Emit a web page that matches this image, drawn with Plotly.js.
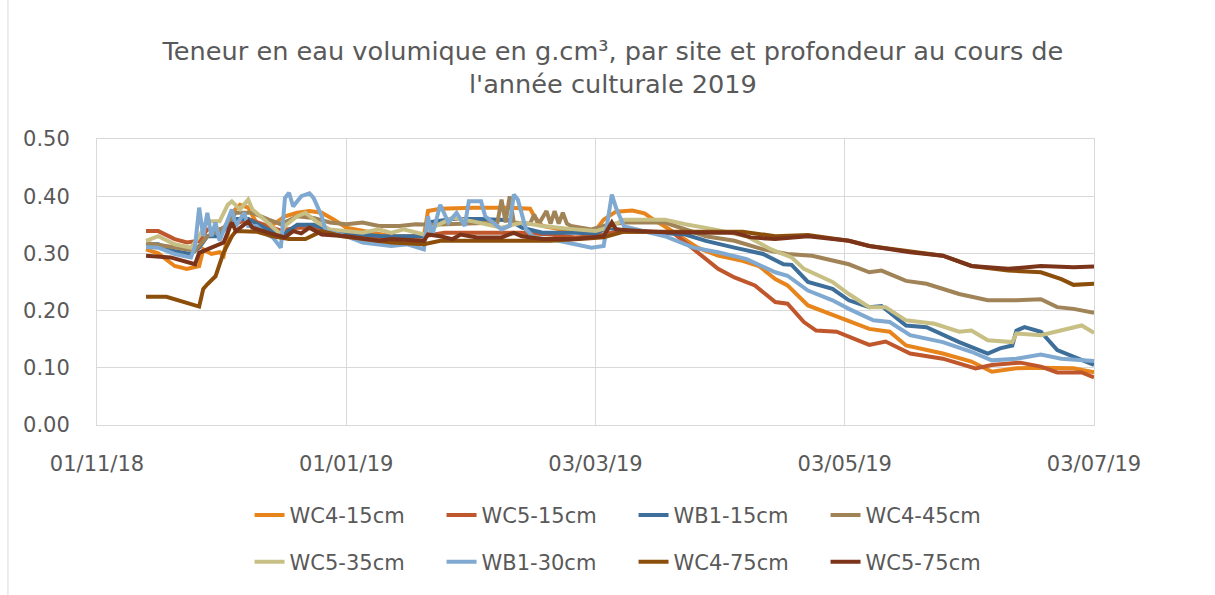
<!DOCTYPE html>
<html>
<head>
<meta charset="utf-8">
<script src="https://cdn.plot.ly/plotly-3.0.1.min.js"></script>
<style>html,body{margin:0;padding:0;background:#fff;}#chart{width:1215px;height:595px;}</style>
</head>
<body>
<div id="chart"></div>
<script>
// ---- data ----
const seriesNames = ['WC4-15cm','WC5-15cm','WB1-15cm','WC4-45cm','WC5-35cm','WB1-30cm','WC4-75cm','WC5-75cm'];
const seriesColors = ['#E8841C','#C0572C','#3E6F9B','#A08458','#C8BF84','#7FA9D0','#8C4F0B','#7B3419'];

const wc4_15_dates = ['2018-11-13','2018-11-16','2018-11-20','2018-11-23','2018-11-26','2018-11-27','2018-11-29','2018-12-01','2018-12-02','2018-12-03','2018-12-04','2018-12-06','2018-12-08','2018-12-10','2018-12-12','2018-12-14','2018-12-17','2018-12-20','2018-12-23','2018-12-26','2018-12-29','2019-01-01','2019-01-05','2019-01-12','2019-01-20','2019-01-21','2019-01-24','2019-02-01','2019-02-10','2019-02-15','2019-02-16','2019-02-18','2019-02-24','2019-03-03','2019-03-05','2019-03-08','2019-03-12','2019-03-15','2019-03-17','2019-03-20','2019-03-28','2019-04-02','2019-04-08','2019-04-12','2019-04-16','2019-04-19','2019-04-24','2019-04-28','2019-05-04','2019-05-09','2019-05-14','2019-05-18','2019-05-27','2019-06-03','2019-06-08','2019-06-14','2019-06-20','2019-06-28','2019-07-03'];
const wc4_15_values = [0.307,0.300,0.278,0.273,0.278,0.307,0.299,0.302,0.296,0.330,0.371,0.385,0.380,0.354,0.345,0.350,0.365,0.371,0.374,0.371,0.359,0.345,0.340,0.330,0.330,0.374,0.378,0.380,0.380,0.378,0.365,0.348,0.340,0.340,0.359,0.373,0.375,0.370,0.360,0.347,0.310,0.296,0.287,0.278,0.255,0.244,0.209,0.198,0.183,0.168,0.163,0.139,0.125,0.111,0.093,0.099,0.100,0.099,0.092];

const wc5_15_dates = ['2018-11-13','2018-11-16','2018-11-20','2018-11-23','2018-11-26','2018-11-28','2018-12-01','2018-12-04','2018-12-08','2018-12-12','2018-12-16','2018-12-20','2018-12-24','2018-12-28','2019-01-01','2019-01-10','2019-01-20','2019-01-25','2019-02-05','2019-02-13','2019-02-20','2019-02-26','2019-03-03','2019-03-08','2019-03-15','2019-03-22','2019-03-25','2019-03-29','2019-04-02','2019-04-06','2019-04-11','2019-04-16','2019-04-19','2019-04-23','2019-04-26','2019-05-01','2019-05-04','2019-05-09','2019-05-13','2019-05-19','2019-05-27','2019-06-04','2019-06-08','2019-06-15','2019-06-20','2019-06-24','2019-06-30','2019-07-03'];
const wc5_15_values = [0.339,0.339,0.325,0.319,0.322,0.342,0.342,0.350,0.360,0.350,0.340,0.345,0.345,0.335,0.330,0.328,0.330,0.336,0.336,0.336,0.333,0.328,0.330,0.338,0.338,0.336,0.319,0.296,0.273,0.258,0.244,0.215,0.212,0.180,0.165,0.163,0.155,0.140,0.146,0.125,0.116,0.099,0.105,0.109,0.102,0.092,0.092,0.083];

const wb1_15_dates = ['2018-11-13','2018-11-16','2018-11-20','2018-11-24','2018-11-26','2018-11-28','2018-12-01','2018-12-04','2018-12-08','2018-12-12','2018-12-16','2018-12-20','2018-12-24','2018-12-28','2019-01-01','2019-01-10','2019-01-20','2019-01-22','2019-01-27','2019-02-03','2019-02-10','2019-02-13','2019-02-18','2019-02-26','2019-03-03','2019-03-06','2019-03-10','2019-03-25','2019-03-30','2019-04-06','2019-04-13','2019-04-18','2019-04-20','2019-04-24','2019-04-30','2019-05-04','2019-05-09','2019-05-12','2019-05-18','2019-05-23','2019-05-31','2019-06-07','2019-06-10','2019-06-13','2019-06-14','2019-06-16','2019-06-20','2019-06-24','2019-06-27','2019-07-03'];
const wb1_15_values = [0.316,0.316,0.304,0.299,0.310,0.330,0.330,0.360,0.360,0.345,0.330,0.350,0.350,0.340,0.335,0.330,0.330,0.355,0.360,0.360,0.358,0.345,0.336,0.336,0.335,0.345,0.340,0.333,0.322,0.310,0.299,0.281,0.280,0.250,0.238,0.218,0.206,0.208,0.174,0.171,0.145,0.125,0.134,0.139,0.165,0.171,0.163,0.131,0.122,0.105];

const wc4_45_dates = ['2018-11-13','2018-11-20','2018-11-25','2018-11-28','2018-12-02','2018-12-05','2018-12-09','2018-12-13','2018-12-16','2018-12-20','2018-12-24','2018-12-28','2019-01-01','2019-01-05','2019-01-09','2019-01-14','2019-01-18','2019-01-22','2019-01-28','2019-02-03','2019-02-07','2019-02-08','2019-02-09','2019-02-10','2019-02-11','2019-02-15','2019-02-16','2019-02-17','2019-02-19','2019-02-20','2019-02-21','2019-02-22','2019-02-23','2019-02-24','2019-02-25','2019-03-02','2019-03-06','2019-03-10','2019-03-20','2019-03-30','2019-04-06','2019-04-13','2019-04-19','2019-04-25','2019-04-30','2019-05-04','2019-05-09','2019-05-12','2019-05-18','2019-05-23','2019-05-31','2019-06-07','2019-06-14','2019-06-20','2019-06-24','2019-06-28','2019-07-03'];
const wc4_45_values = [0.318,0.310,0.305,0.330,0.345,0.371,0.371,0.359,0.351,0.365,0.362,0.354,0.351,0.354,0.348,0.348,0.351,0.350,0.352,0.354,0.354,0.394,0.354,0.400,0.354,0.352,0.368,0.350,0.374,0.352,0.374,0.352,0.371,0.352,0.348,0.342,0.350,0.354,0.354,0.330,0.322,0.307,0.299,0.296,0.287,0.281,0.267,0.270,0.252,0.247,0.229,0.218,0.218,0.220,0.206,0.203,0.196];

const wc5_35_dates = ['2018-11-13','2018-11-16','2018-11-20','2018-11-24','2018-11-26','2018-11-28','2018-12-01','2018-12-03','2018-12-04','2018-12-06','2018-12-08','2018-12-09','2018-12-12','2018-12-16','2018-12-17','2018-12-20','2018-12-22','2018-12-25','2018-12-28','2019-01-05','2019-01-09','2019-01-12','2019-01-15','2019-01-20','2019-01-22','2019-01-27','2019-02-01','2019-02-08','2019-02-13','2019-02-18','2019-02-26','2019-03-03','2019-03-06','2019-03-10','2019-03-20','2019-03-25','2019-04-01','2019-04-09','2019-04-15','2019-04-20','2019-04-23','2019-04-30','2019-05-04','2019-05-09','2019-05-13','2019-05-18','2019-05-25','2019-05-31','2019-06-03','2019-06-07','2019-06-13','2019-06-14','2019-06-20','2019-06-25','2019-06-30','2019-07-03'];
const wc5_35_values = [0.322,0.330,0.316,0.310,0.330,0.356,0.356,0.385,0.391,0.377,0.394,0.377,0.359,0.333,0.348,0.365,0.371,0.354,0.342,0.336,0.342,0.336,0.342,0.333,0.345,0.362,0.356,0.345,0.354,0.348,0.342,0.339,0.345,0.359,0.359,0.351,0.342,0.330,0.307,0.293,0.273,0.250,0.229,0.206,0.206,0.183,0.177,0.163,0.165,0.148,0.145,0.160,0.157,0.165,0.174,0.161];

const wb1_30_dates = ['2018-11-13','2018-11-16','2018-11-20','2018-11-24','2018-11-25','2018-11-26','2018-11-27','2018-11-28','2018-11-29','2018-11-30','2018-12-01','2018-12-02','2018-12-04','2018-12-05','2018-12-07','2018-12-08','2018-12-10','2018-12-12','2018-12-14','2018-12-16','2018-12-17','2018-12-18','2018-12-19','2018-12-21','2018-12-23','2018-12-24','2018-12-26','2018-12-27','2019-01-01','2019-01-05','2019-01-08','2019-01-12','2019-01-16','2019-01-20','2019-01-21','2019-01-22','2019-01-24','2019-01-25','2019-01-26','2019-01-28','2019-01-30','2019-01-31','2019-02-03','2019-02-04','2019-02-08','2019-02-10','2019-02-11','2019-02-12','2019-02-14','2019-02-16','2019-02-22','2019-02-26','2019-03-02','2019-03-05','2019-03-07','2019-03-08','2019-03-10','2019-03-20','2019-03-27','2019-04-02','2019-04-09','2019-04-16','2019-04-19','2019-04-24','2019-04-30','2019-05-04','2019-05-10','2019-05-14','2019-05-19','2019-05-27','2019-06-03','2019-06-08','2019-06-14','2019-06-20','2019-06-25','2019-07-03'];
const wb1_30_values = [0.311,0.310,0.299,0.293,0.313,0.380,0.330,0.371,0.330,0.354,0.322,0.342,0.377,0.348,0.371,0.348,0.348,0.336,0.328,0.310,0.397,0.406,0.382,0.400,0.405,0.397,0.365,0.339,0.330,0.319,0.316,0.313,0.316,0.307,0.365,0.330,0.385,0.371,0.354,0.371,0.348,0.391,0.391,0.365,0.342,0.348,0.403,0.394,0.342,0.328,0.322,0.316,0.310,0.313,0.403,0.380,0.347,0.330,0.310,0.302,0.290,0.267,0.261,0.235,0.218,0.203,0.183,0.180,0.157,0.145,0.128,0.113,0.116,0.123,0.116,0.112];

const wc4_75_dates = ['2018-11-13','2018-11-18','2018-11-26','2018-11-27','2018-11-28','2018-11-30','2018-12-02','2018-12-04','2018-12-05','2018-12-10','2018-12-14','2018-12-18','2018-12-22','2018-12-26','2018-12-31','2019-01-12','2019-01-20','2019-01-24','2019-02-08','2019-02-20','2019-03-01','2019-03-05','2019-03-10','2019-03-20','2019-04-02','2019-04-08','2019-04-16','2019-04-24','2019-04-30','2019-05-04','2019-05-09','2019-05-19','2019-05-27','2019-06-03','2019-06-12','2019-06-20','2019-06-25','2019-06-28','2019-07-03'];
const wc4_75_values = [0.224,0.224,0.207,0.238,0.246,0.260,0.302,0.330,0.339,0.338,0.330,0.325,0.325,0.339,0.330,0.319,0.316,0.322,0.322,0.322,0.326,0.328,0.338,0.338,0.339,0.338,0.330,0.332,0.326,0.322,0.313,0.303,0.296,0.278,0.270,0.267,0.255,0.245,0.247];

const wc5_75_dates = ['2018-11-13','2018-11-19','2018-11-25','2018-11-26','2018-11-29','2018-12-02','2018-12-04','2018-12-05','2018-12-08','2018-12-09','2018-12-13','2018-12-17','2018-12-19','2018-12-21','2018-12-23','2018-12-26','2019-01-01','2019-01-09','2019-01-12','2019-01-20','2019-01-21','2019-01-24','2019-01-27','2019-01-29','2019-02-02','2019-02-08','2019-02-11','2019-02-13','2019-02-18','2019-02-26','2019-03-02','2019-03-05','2019-03-07','2019-03-08','2019-03-14','2019-03-20','2019-04-02','2019-04-06','2019-04-10','2019-04-16','2019-04-24','2019-04-30','2019-05-04','2019-05-09','2019-05-19','2019-05-27','2019-06-03','2019-06-12','2019-06-20','2019-06-28','2019-07-03'];
const wc5_75_values = [0.296,0.293,0.281,0.301,0.310,0.319,0.354,0.339,0.356,0.345,0.336,0.328,0.339,0.335,0.345,0.333,0.330,0.322,0.325,0.322,0.333,0.330,0.325,0.333,0.328,0.328,0.336,0.330,0.325,0.325,0.328,0.330,0.354,0.342,0.339,0.337,0.336,0.336,0.328,0.325,0.330,0.325,0.322,0.313,0.302,0.296,0.278,0.273,0.278,0.276,0.277];

const xTickVals = ['2018-11-01','2019-01-01','2019-03-03','2019-05-03','2019-07-03'];
const titleText = 'Teneur en eau volumique en g.cm³, par site et profondeur au cours de<br>l\'année culturale 2019';

// ---- build traces ----
const allDates = [wc4_15_dates, wc5_15_dates, wb1_15_dates, wc4_45_dates, wc5_35_dates, wb1_30_dates, wc4_75_dates, wc5_75_dates];
const allValues = [wc4_15_values, wc5_15_values, wb1_15_values, wc4_45_values, wc5_35_values, wb1_30_values, wc4_75_values, wc5_75_values];

const FONT = 'DejaVu Sans, sans-serif';
const TXT = '#595959';

const traces = seriesNames.map((name, i) => ({
  type: 'scatter',
  mode: 'lines',
  name: name,
  x: allDates[i],
  y: allValues[i],
  line: {color: seriesColors[i], width: 4},
  legend: i < 4 ? 'legend' : 'legend2',
  hoverinfo: 'x+y+name'
}));

const legendCommon = {
  orientation: 'h',
  xanchor: 'left',
  yanchor: 'middle',
  x: 0.153,
  font: {family: FONT, size: 21, color: TXT},
  entrywidth: 147,
  entrywidthmode: 'pixels',
  bgcolor: 'rgba(0,0,0,0)'
};

const layout = {
  width: 1215,
  height: 595,
  margin: {l: 97, r: 121, t: 139, b: 168},
  paper_bgcolor: '#ffffff',
  plot_bgcolor: '#ffffff',
  title: {
    text: titleText,
    font: {family: FONT, size: 25.6, color: TXT},
    x: 0.5045, xref: 'container', xanchor: 'center',
    y: 0.90, yref: 'container', yanchor: 'top'
  },
  xaxis: {
    type: 'date',
    range: ['2018-11-01', '2019-07-03'],
    tickvals: xTickVals,
    tickformat: '%d/%m/%y',
    showgrid: true,
    gridcolor: '#D9D9D9',
    gridwidth: 1,
    zeroline: false,
    showline: true,
    mirror: true,
    linecolor: '#D9D9D9',
    linewidth: 1,
    ticks: '',
    ticklabelstandoff: 20,
    tickfont: {family: FONT, size: 21, color: TXT}
  },
  yaxis: {
    range: [0, 0.5],
    dtick: 0.1,
    tick0: 0,
    tickformat: '.2f',
    showgrid: true,
    gridcolor: '#D9D9D9',
    gridwidth: 1,
    zeroline: false,
    showline: true,
    mirror: true,
    linecolor: '#D9D9D9',
    linewidth: 1,
    ticks: '',
    ticklabelstandoff: 22,
    tickfont: {family: FONT, size: 21, color: TXT}
  },
  legend: Object.assign({}, legendCommon, {y: -0.316}),
  legend2: Object.assign({}, legendCommon, {y: -0.479}),
  showlegend: true,
  shapes: [{
    type: 'line', xref: 'paper', yref: 'paper',
    x0: -0.0893, x1: -0.0893, y0: -0.6, y1: 1.5,
    line: {color: '#D9D9D9', width: 1}
  }]
};

Plotly.newPlot('chart', traces, layout, {displayModeBar: false, staticPlot: true});
</script>
</body>
</html>
